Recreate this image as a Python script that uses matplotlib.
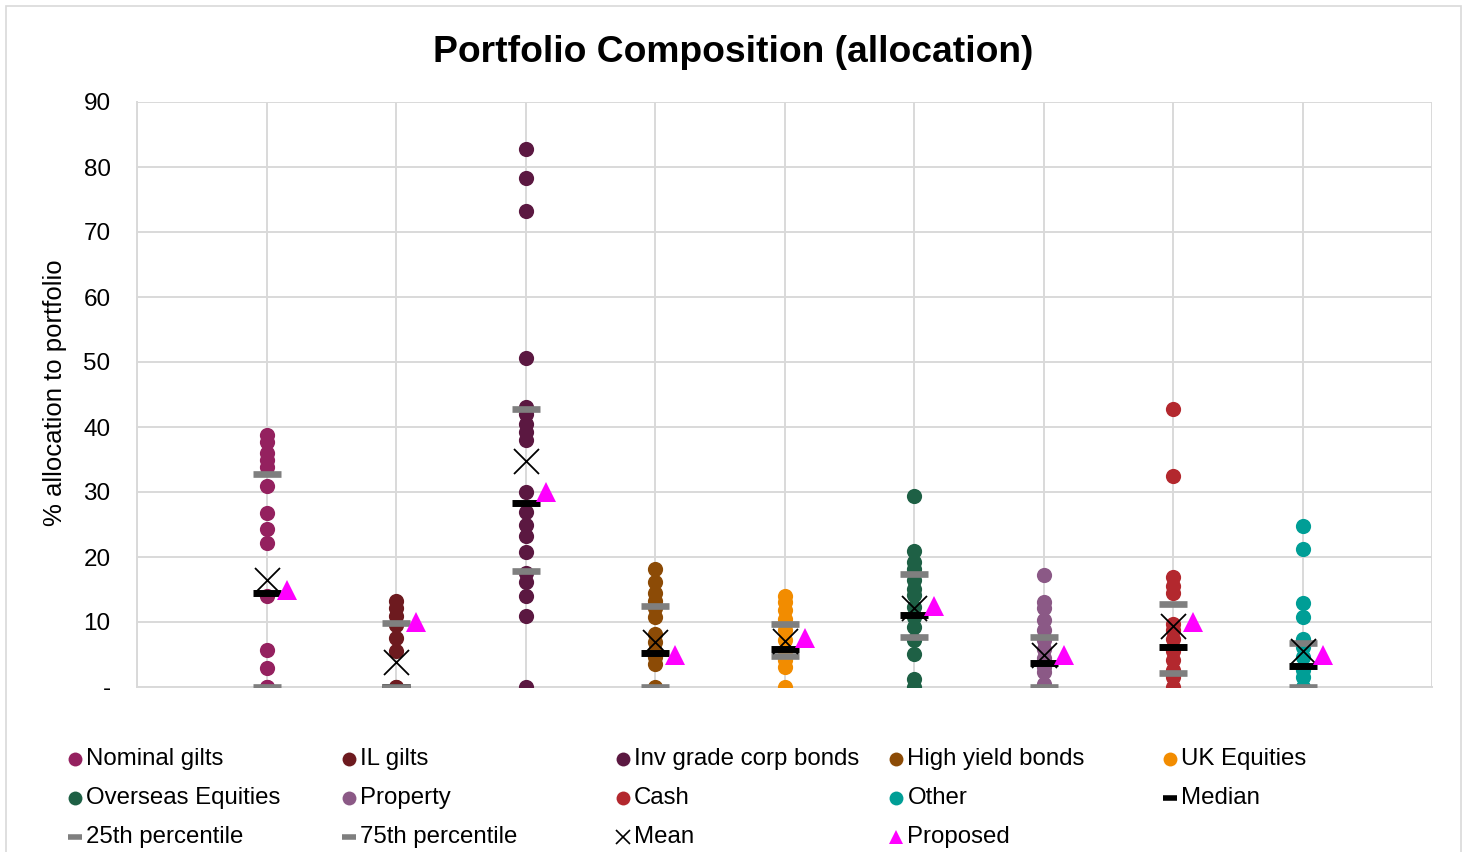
#portfolio_plot.py

"""Dot plot of each scheme's allocation per asset class, with median,
quartiles, mean and the proposed allocation."""

import numpy as np
import matplotlib
matplotlib.use("Agg")
from matplotlib import pyplot as plt
from matplotlib.lines import Line2D
from matplotlib.patches import Rectangle

plt.rcParams['font.family'] = ['Liberation Sans', 'DejaVu Sans']

#Asset classes, in plotting order
categories = ["Nominal gilts", "IL gilts", "Inv grade corp bonds", "High yield bonds",
              "UK Equities", "Overseas Equities", "Property", "Cash", "Other"]
colours = ["#94215F", "#6D1A1F", "#5B1841", "#8C4B06", "#F28C00",
           "#1E6045", "#8B5986", "#B3282E", "#009E96"]

#Individual allocations (%)
nominal_gilts = [38.8, 37.7, 36.0, 34.9, 33.9, 30.9, 26.8, 24.3, 22.1, 14.0, 5.7, 3.0, 0, 0]
il_gilts = [13.2, 12.2, 11.0, 9.6, 7.5, 5.5, 0, 0]
inv_grade = [82.8, 78.3, 73.3, 50.6, 43.1, 42.0, 40.5, 39.2, 38.0, 30.0, 26.9, 24.9,
             23.2, 20.7, 17.5, 16.2, 14.0, 10.9, 0]
high_yield = [18.2, 16.2, 14.4, 13.3, 12.1, 10.8, 8.2, 6.9, 5.6, 4.6, 3.6, 0]
uk_equities = [14.0, 13.1, 11.8, 10.5, 8.7, 7.2, 5.6, 4.1, 3.1, 0]
overseas = [29.4, 21.0, 19.2, 18.2, 16.4, 15.1, 14.1, 12.3, 10.8, 9.2, 7.2, 5.1, 1.2, 0]
prop = [17.3, 13.1, 12.1, 10.3, 8.7, 7.2, 5.9, 4.4, 3.1, 2.3, 0.5, 0]
cash = [42.7, 32.4, 17.0, 15.6, 14.4, 9.7, 8.7, 7.4, 5.6, 4.1, 2.6, 1.5, 0]
other = [24.7, 21.2, 13.0, 10.8, 7.4, 6.2, 4.6, 2.6, 1.5, 0]
allocations = [nominal_gilts, il_gilts, inv_grade, high_yield, uk_equities,
               overseas, prop, cash, other]

#Summary statistics per asset class
medians = [14.5, 0, 28.3, 5.2, 5.9, 11.1, 3.7, 6.1, 3.3]
pct25 = [0, 0, 17.8, 0, 4.7, 7.7, 0, 2.2, 0]
pct75 = [32.8, 9.8, 42.7, 12.5, 9.7, 17.4, 7.7, 12.8, 6.8]
means = [16.5, 3.9, 34.8, 7.0, 7.1, 12.2, 4.9, 9.4, 5.5]
proposed = [14.9, 10.0, 30.0, 4.9, 7.5, 12.5, 4.9, 10.0, 4.9]

yticks = [0, 10, 20, 30, 40, 50, 60, 70, 80, 90]
ytick_labels = ["-"] + [str(t) for t in yticks[1:]]

W, H = 1464, 852
fig = plt.figure(figsize=(W/100, H/100), dpi=100)
ax = fig.add_axes([137/W, (H-687)/H, 1295/W, 585/H])

#Individual schemes
xs = np.arange(1, len(categories)+1)
for x, vals, col in zip(xs, allocations, colours):
    ax.scatter(np.full(len(vals), x), vals, s=120, color=col, linewidths=0, zorder=3)

#Summary markers
ax.plot(xs, medians, ls="none", marker="_", ms=20, mew=5, color="black", zorder=4)
ax.plot(xs, pct25, ls="none", marker="_", ms=20, mew=4.8, color="#7F7F7F", zorder=5)
ax.plot(xs, pct75, ls="none", marker="_", ms=20, mew=4.8, color="#7F7F7F", zorder=5)
ax.plot(xs, means, ls="none", marker="x", ms=18, mew=1.3, color="black", zorder=6)
ax.plot(xs + 0.155, proposed, ls="none", marker="^", ms=14.5, color="#FF00FF",
        markeredgewidth=0, zorder=7)

#Axes styling
ax.set_xlim(0, 10)
ax.set_ylim(0, 90)
ax.set_xticks(np.arange(0, 11))
ax.set_xticklabels([])
ax.set_yticks(yticks)
ax.set_yticklabels(ytick_labels, fontsize=17.5)
ax.tick_params(length=0, pad=19)
ax.grid(True, color="#D9D9D9", linewidth=1.4)
ax.set_axisbelow(True)
for s in ax.spines.values():
    s.set_visible(False)
for sp in ["left", "bottom"]:
    ax.spines[sp].set_visible(True)
    ax.spines[sp].set_color("#D9D9D9")
    ax.spines[sp].set_linewidth(1.4)

#Title and axis label
fig.text(733/W, 1-52/H, "Portfolio Composition (allocation)", ha="center", va="center",
         fontsize=26.8, fontweight="bold")
fig.text(55/W, 1-393/H, "% allocation to portfolio", ha="center", va="center",
         rotation=90, fontsize=18.5)

#Legend laid out in a 5-column grid
entries = [(c, dict(marker="o", ms=10, color=col, mew=0)) for c, col in zip(categories, colours)]
entries += [("Median", dict(marker="_", ms=10, mew=4, color="black")),
            ("25th percentile", dict(marker="_", ms=10, mew=4, color="#7F7F7F")),
            ("75th percentile", dict(marker="_", ms=10, mew=4, color="#7F7F7F")),
            ("Mean", dict(marker="x", ms=10, mew=1.2, color="black")),
            ("Proposed", dict(marker="^", ms=10, mew=0, color="#FF00FF"))]
for i, (label, style) in enumerate(entries):
    col, row = i % 5, i // 5
    x0 = 75 + 273.8*col
    y0 = 759 + 39*row
    fig.add_artist(Line2D([x0/W], [1-y0/H], ls="none", transform=fig.transFigure, **style))
    fig.text((x0+11)/W, 1-y0/H, label, ha="left", va="center", fontsize=17.3)

#Chart border
fig.add_artist(Rectangle((5.5/W, -0.05), (1461-5.5)/W, 1-6/H+0.05, fill=False,
                         edgecolor="#D9D9D9", linewidth=1.2, transform=fig.transFigure))

fig.savefig("out.png", dpi=100)
